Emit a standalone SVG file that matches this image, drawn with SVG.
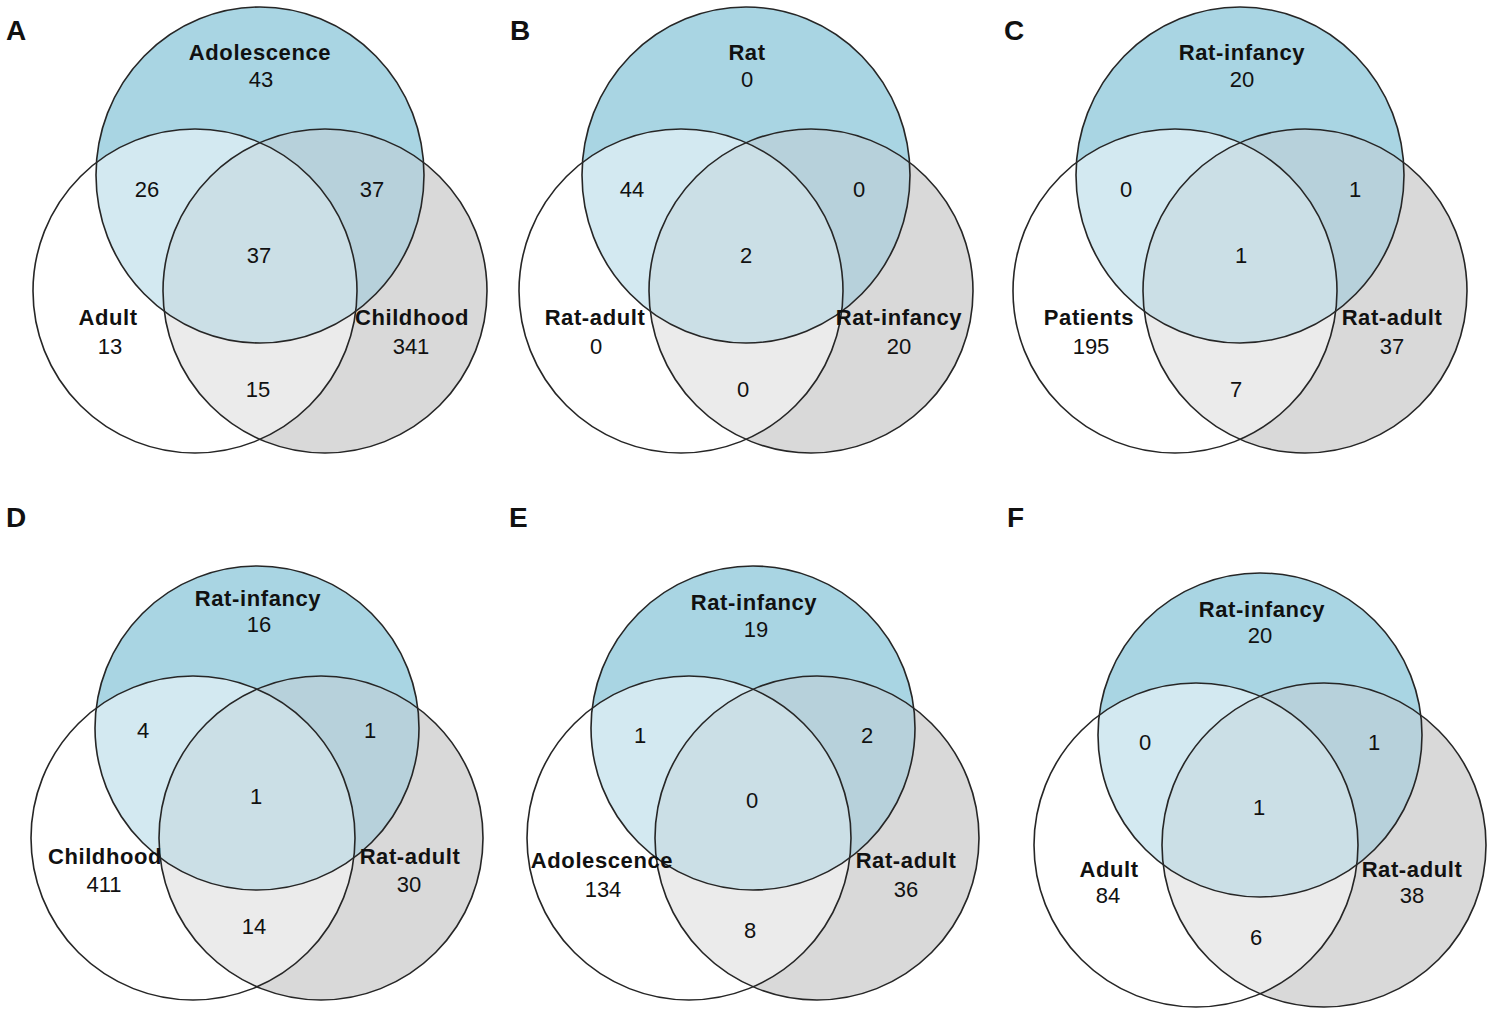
<svg xmlns="http://www.w3.org/2000/svg" width="1500" height="1036" viewBox="0 0 1500 1036">
<style>
.bg{fill:#ffffff}
.t{fill:#a9d5e3}
.r{fill:#d9d9d9}
.tl{fill:#d3e9f1}
.tr{fill:#b7d1db}
.lr{fill:#ebebeb}
.tlr{fill:#cbdfe6}
.ol{fill:none;stroke:#262626;stroke-width:1.6}
text{font-family:"Liberation Sans",Arial,Helvetica,sans-serif;fill:#111;text-anchor:middle}
.lab{font-size:22px;font-weight:bold;letter-spacing:0.6px}
.num{font-size:22px}
.pl{font-size:28px;font-weight:bold;text-anchor:start}
</style>
<defs>
<clipPath id="cL1"><circle cx="-65" cy="116" r="162"/></clipPath>
<clipPath id="cR1"><circle cx="65" cy="116" r="162"/></clipPath>
<clipPath id="cLR1" clip-path="url(#cL1)"><circle cx="65" cy="116" r="162"/></clipPath>
<clipPath id="cL2"><circle cx="-64" cy="110" r="162"/></clipPath>
<clipPath id="cR2"><circle cx="64" cy="110" r="162"/></clipPath>
<clipPath id="cLR2" clip-path="url(#cL2)"><circle cx="64" cy="110" r="162"/></clipPath>
<g id="venn1">
<ellipse class="t" cx="0" cy="0" rx="164" ry="168"/>
<circle class="r" cx="65" cy="116" r="162"/>
<ellipse class="tl" cx="0" cy="0" rx="164" ry="168" clip-path="url(#cL1)"/>
<ellipse class="tr" cx="0" cy="0" rx="164" ry="168" clip-path="url(#cR1)"/>
<circle class="lr" cx="65" cy="116" r="162" clip-path="url(#cL1)"/>
<ellipse class="tlr" cx="0" cy="0" rx="164" ry="168" clip-path="url(#cLR1)"/>
<ellipse class="ol" cx="0" cy="0" rx="164" ry="168"/>
<circle class="ol" cx="-65" cy="116" r="162"/>
<circle class="ol" cx="65" cy="116" r="162"/>
</g>
<g id="venn2">
<circle class="t" cx="0" cy="0" r="162"/>
<circle class="r" cx="64" cy="110" r="162"/>
<circle class="tl" cx="0" cy="0" r="162" clip-path="url(#cL2)"/>
<circle class="tr" cx="0" cy="0" r="162" clip-path="url(#cR2)"/>
<circle class="lr" cx="64" cy="110" r="162" clip-path="url(#cL2)"/>
<circle class="tlr" cx="0" cy="0" r="162" clip-path="url(#cLR2)"/>
<circle class="ol" cx="0" cy="0" r="162"/>
<circle class="ol" cx="-64" cy="110" r="162"/>
<circle class="ol" cx="64" cy="110" r="162"/>
</g>
</defs>
<rect class="bg" x="0" y="0" width="1500" height="1036"/>

<g id="panel-A">
<use href="#venn1" transform="translate(260,175)"/>
<text class="pl" x="6" y="40">A</text>
<text class="lab" x="260" y="60">Adolescence</text>
<text class="num" x="261" y="87">43</text>
<text class="num" x="147" y="197">26</text>
<text class="num" x="372" y="197">37</text>
<text class="num" x="259" y="263">37</text>
<text class="lab" x="108" y="325">Adult</text>
<text class="num" x="110" y="354">13</text>
<text class="lab" x="412" y="325">Childhood</text>
<text class="num" x="411" y="354">341</text>
<text class="num" x="258" y="397">15</text>
</g>

<g id="panel-B">
<use href="#venn1" transform="translate(746,175)"/>
<text class="pl" x="510" y="40">B</text>
<text class="lab" x="747" y="60">Rat</text>
<text class="num" x="747" y="87">0</text>
<text class="num" x="632" y="197">44</text>
<text class="num" x="859" y="197">0</text>
<text class="num" x="746" y="263">2</text>
<text class="lab" x="595" y="325">Rat-adult</text>
<text class="num" x="596" y="354">0</text>
<text class="lab" x="899" y="325">Rat-infancy</text>
<text class="num" x="899" y="354">20</text>
<text class="num" x="743" y="397">0</text>
</g>

<g id="panel-C">
<use href="#venn1" transform="translate(1240,175)"/>
<text class="pl" x="1004" y="40">C</text>
<text class="lab" x="1242" y="60">Rat-infancy</text>
<text class="num" x="1242" y="87">20</text>
<text class="num" x="1126" y="197">0</text>
<text class="num" x="1355" y="197">1</text>
<text class="num" x="1241" y="263">1</text>
<text class="lab" x="1089" y="325">Patients</text>
<text class="num" x="1091" y="354">195</text>
<text class="lab" x="1392" y="325">Rat-adult</text>
<text class="num" x="1392" y="354">37</text>
<text class="num" x="1236" y="397">7</text>
</g>

<g id="panel-D">
<use href="#venn2" transform="translate(257,728)"/>
<text class="pl" x="6" y="527">D</text>
<text class="lab" x="258" y="606">Rat-infancy</text>
<text class="num" x="259" y="632">16</text>
<text class="num" x="143" y="738">4</text>
<text class="num" x="370" y="738">1</text>
<text class="num" x="256" y="804">1</text>
<text class="lab" x="105" y="864">Childhood</text>
<text class="num" x="104" y="892">411</text>
<text class="lab" x="410" y="864">Rat-adult</text>
<text class="num" x="409" y="892">30</text>
<text class="num" x="254" y="934">14</text>
</g>

<g id="panel-E">
<use href="#venn2" transform="translate(753,728)"/>
<text class="pl" x="509" y="527">E</text>
<text class="lab" x="754" y="610">Rat-infancy</text>
<text class="num" x="756" y="637">19</text>
<text class="num" x="640" y="743">1</text>
<text class="num" x="867" y="743">2</text>
<text class="num" x="752" y="808">0</text>
<text class="lab" x="602" y="868">Adolescence</text>
<text class="num" x="603" y="897">134</text>
<text class="lab" x="906" y="868">Rat-adult</text>
<text class="num" x="906" y="897">36</text>
<text class="num" x="750" y="938">8</text>
</g>

<g id="panel-F">
<use href="#venn2" transform="translate(1260,735)"/>
<text class="pl" x="1007" y="527">F</text>
<text class="lab" x="1262" y="617">Rat-infancy</text>
<text class="num" x="1260" y="643">20</text>
<text class="num" x="1145" y="750">0</text>
<text class="num" x="1374" y="750">1</text>
<text class="num" x="1259" y="815">1</text>
<text class="lab" x="1109" y="877">Adult</text>
<text class="num" x="1108" y="903">84</text>
<text class="lab" x="1412" y="877">Rat-adult</text>
<text class="num" x="1412" y="903">38</text>
<text class="num" x="1256" y="945">6</text>
</g>
</svg>
